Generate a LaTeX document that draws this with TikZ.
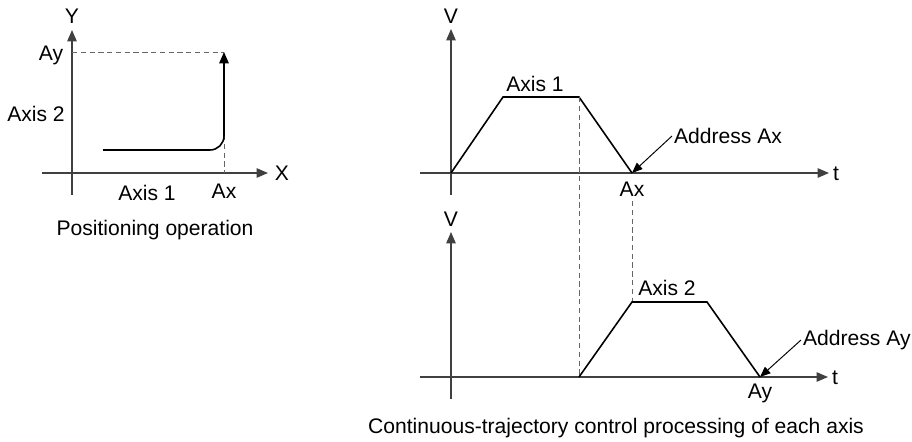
\documentclass[tikz,border=0pt]{standalone}
\usepackage{fontspec}
\setmainfont{Liberation Sans}
\usetikzlibrary{arrows.meta,positioning}

\begin{document}
\begin{tikzpicture}[
  x=0.02cm, y=-0.02cm,
  every node/.style={font=\fontsize{12}{14}\selectfont, inner sep=1pt},
  axisline/.style={draw=black!75, line width=0.7pt, -{Triangle[length=6.5pt,width=5.4pt]}},
  profile/.style={draw=black, line width=0.9pt},
  guide/.style={draw=black!60, dash pattern=on 3pt off 2pt, line width=0.55pt},
  pointer/.style={draw=black, line width=0.55pt, -{Triangle[length=6pt,width=4.8pt]}}
]
\useasboundingbox (0,0) rectangle (912,442);

% positioning operation
\coordinate (yb) at (72,195);
\coordinate (yt) at (72,30);
\coordinate (xl) at (42,173);
\coordinate (xr) at (268,173);
\coordinate (s0) at (103,150);
\coordinate (s1) at (224,52);
\coordinate (ay0) at (72,52);
\coordinate (ay1) at (224,52);
\coordinate (ax0) at (224,135);
\coordinate (ax1) at (224,173);
\draw[axisline] (yb) -- (yt);
\draw[axisline] (xl) -- (xr);
\draw[guide] (ay0) -- (ay1);
\draw[guide] (ax0) -- (ax1);
\draw[profile, rounded corners=8pt, -{Triangle[length=6.5pt,width=5.4pt]}] (s0) -| (s1);
\node (lY) at (72,16) {Y};
\node (lX) at (282,173) {X};
\node (lAy) at (51,55) {Ay};
\node (lAx) at (224,191) {Ax};
\node (lax2) at (36,114) {Axis 2};
\node (lax1) at (147,193) {Axis 1};
\node (cap1) at (155,230) {Positioning operation};

% axis 1 speed
\coordinate (vb1) at (451,195);
\coordinate (vt1) at (451,29);
\coordinate (tl1) at (420,173);
\coordinate (tr1) at (829,173);
\coordinate (p0) at (451,173);
\coordinate (p1) at (503,97);
\coordinate (p2) at (579,97);
\coordinate (p3) at (632,173);
\draw[axisline] (vb1) -- (vt1);
\draw[axisline] (tl1) -- (tr1);
\draw[profile] (p0) -- (p1) -- (p2) -- (p3);
\node (lV1) at (451,16) {V};
\node[anchor=west] (lt1) at (831,174) {t};
\node (lx1) at (535,84) {Axis 1};
\node[anchor=west] (addrx) at (672,136) {Address Ax};
\node (lAx2) at (632,189) {Ax};
\draw[pointer] (addrx.west) -- (p3);

% axis 2 speed
\coordinate (vb2) at (451,399);
\coordinate (vt2) at (451,232);
\coordinate (tl2) at (420,377);
\coordinate (tr2) at (828,377);
\coordinate (q0) at (579,377);
\coordinate (q1) at (632,302);
\coordinate (q2) at (707,302);
\coordinate (q3) at (760,377);
\coordinate (d0) at (632,201);
\draw[guide] (p2) -- (q0);
\draw[guide] (d0) -- (q1);
\draw[axisline] (vb2) -- (vt2);
\draw[axisline] (tl2) -- (tr2);
\draw[profile] (q0) -- (q1) -- (q2) -- (q3);
\node (lV2) at (451,219) {V};
\node[anchor=west] (lt2) at (830,378) {t};
\node (lx2) at (667,288) {Axis 2};
\node[anchor=west] (addry) at (801,340) {Address Ay};
\node (lAy2) at (760,393) {Ay};
\draw[pointer] (addry.west) -- (q3);
\node (cap2) at (616,428) {Continuous-trajectory control processing of each axis};
\end{tikzpicture}
\end{document}
